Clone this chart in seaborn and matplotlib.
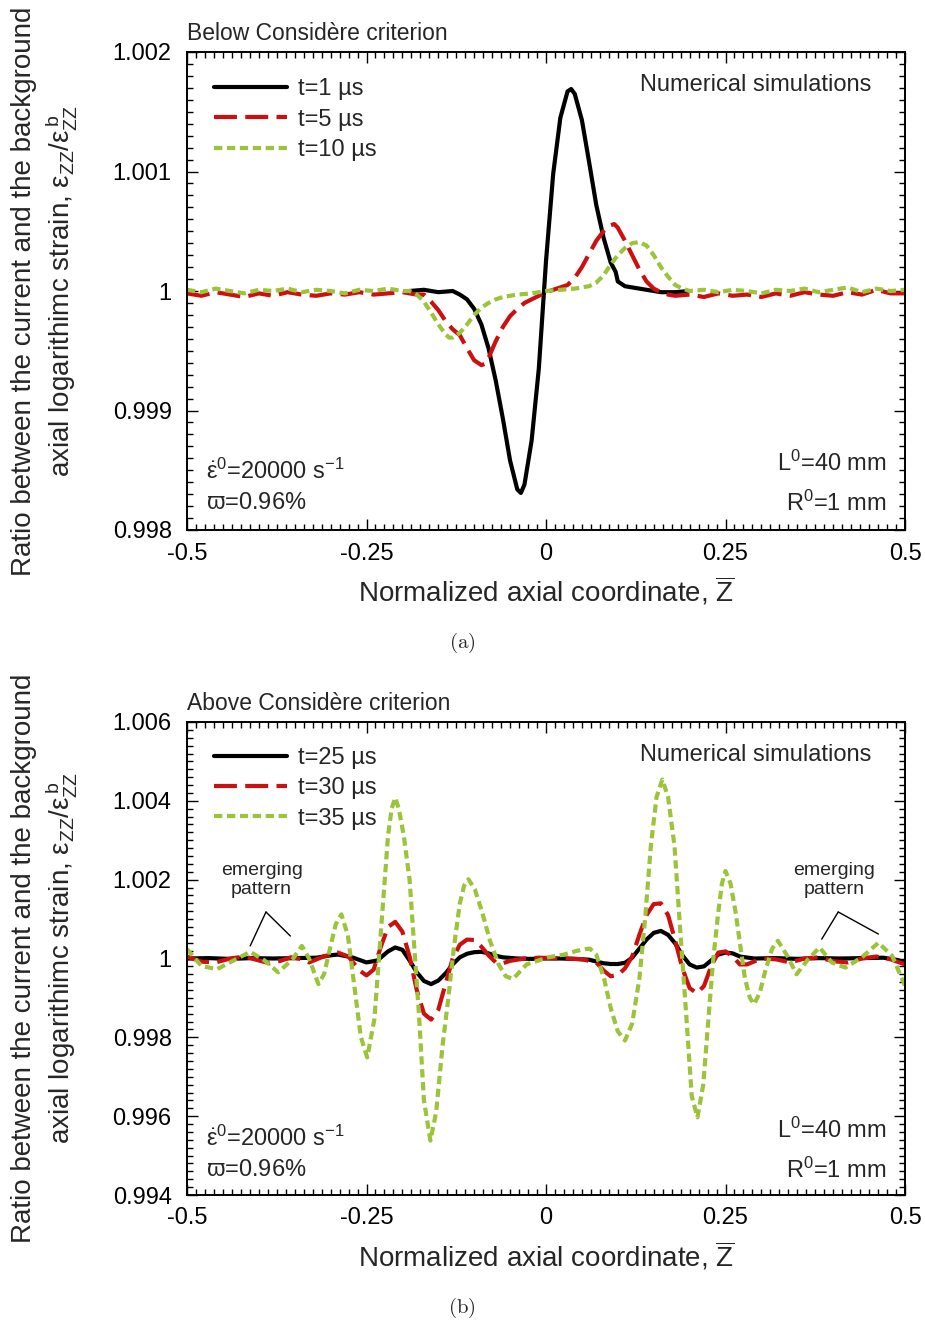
import numpy as np
import pandas as pd
import matplotlib
matplotlib.use("Agg")
import matplotlib.pyplot as plt
from matplotlib.ticker import MultipleLocator
import seaborn as sns

# ---------------- data ----------------
# Panel (a): below Considère criterion
za_t1 = [-0.19, -0.17, -0.15, -0.13, -0.12, -0.11, -0.10, -0.09, -0.08, -0.07, -0.06,
         -0.05, -0.04, -0.035, -0.03, -0.02, -0.01, 0.0, 0.01, 0.02, 0.03, 0.035, 0.04,
         0.05, 0.06, 0.07, 0.08, 0.09, 0.097, 0.10, 0.11, 0.12, 0.14, 0.16, 0.18, 0.20]
ra_t1 = [1.00000, 1.00001, 0.99999, 1.00000, 0.99997, 0.99993, 0.99985, 0.99972, 0.99952,
         0.99925, 0.99893, 0.99858, 0.99834, 0.99831, 0.99838, 0.99875, 0.99935, 1.00025,
         1.00098, 1.00145, 1.00167, 1.00169, 1.00165, 1.00143, 1.00108, 1.00072, 1.00045,
         1.00024, 1.00016, 1.00008, 1.00004, 1.00003, 1.00001, 0.99999, 0.99999, 1.00000]

za_t5 = [-0.50, -0.48, -0.46, -0.44, -0.42, -0.40, -0.38, -0.36, -0.34, -0.32, -0.30,
         -0.28, -0.26, -0.24, -0.22, -0.20, -0.18, -0.17, -0.16, -0.15, -0.14, -0.13,
         -0.12, -0.11, -0.10, -0.09, -0.085, -0.08, -0.07, -0.06, -0.05, -0.04, -0.03,
         -0.02, -0.01, 0.0, 0.01, 0.02, 0.03, 0.04, 0.05, 0.06, 0.07, 0.08, 0.09, 0.095,
         0.10, 0.11, 0.12, 0.13, 0.14, 0.15, 0.16, 0.17, 0.18, 0.20, 0.22, 0.24, 0.26,
         0.28, 0.30, 0.32, 0.34, 0.36, 0.38, 0.40, 0.42, 0.44, 0.46, 0.48, 0.50]
ra_t5 = [0.99998, 0.99996, 0.99999, 0.99997, 0.99995, 0.99998, 0.99996, 0.99999, 0.99997,
         0.99996, 0.99998, 0.99997, 0.99999, 0.99997, 0.99998, 0.99999, 0.99997, 0.99997,
         0.99991, 0.99984, 0.99975, 0.99968, 0.99963, 0.99952, 0.99942, 0.99938, 0.99939,
         0.99944, 0.99958, 0.99970, 0.99979, 0.99985, 0.99990, 0.99993, 0.99996, 0.99999,
         1.00001, 1.00003, 1.00005, 1.00011, 1.00020, 1.00031, 1.00042, 1.00050, 1.00055,
         1.00056, 1.00053, 1.00042, 1.00030, 1.00018, 1.00008, 1.00002, 0.99999, 0.99997,
         0.99996, 0.99997, 0.99995, 0.99998, 0.99996, 0.99997, 0.99995, 0.99998, 0.99996,
         0.99999, 0.99997, 0.99996, 0.99999, 0.99997, 1.00001, 0.99998, 0.99998]

za_t10 = [-0.50, -0.48, -0.46, -0.44, -0.42, -0.40, -0.38, -0.36, -0.34, -0.32, -0.30,
          -0.28, -0.26, -0.24, -0.22, -0.20, -0.19, -0.18, -0.17, -0.16, -0.15, -0.14,
          -0.135, -0.13, -0.12, -0.11, -0.10, -0.09, -0.08, -0.07, -0.06, -0.05, -0.04,
          -0.02, 0.0, 0.02, 0.04, 0.05, 0.06, 0.07, 0.08, 0.09, 0.10, 0.11, 0.12, 0.13,
          0.14, 0.15, 0.16, 0.17, 0.18, 0.19, 0.20, 0.22, 0.24, 0.26, 0.28, 0.30, 0.32,
          0.34, 0.36, 0.38, 0.40, 0.42, 0.44, 0.46, 0.48, 0.50]
ra_t10 = [1.00001, 0.99999, 1.00002, 1.00000, 0.99998, 1.00001, 1.00000, 1.00002, 0.99999,
          1.00001, 1.00000, 0.99998, 1.00001, 1.00000, 1.00002, 1.00000, 1.00000, 0.99997,
          0.99991, 0.99982, 0.99972, 0.99964, 0.99961, 0.99961, 0.99965, 0.99972, 0.99980,
          0.99986, 0.99990, 0.99993, 0.99995, 0.99996, 0.99997, 0.99998, 1.00000, 1.00001,
          1.00002, 1.00003, 1.00004, 1.00007, 1.00013, 1.00022, 1.00030, 1.00036, 1.00040,
          1.00041, 1.00038, 1.00030, 1.00020, 1.00012, 1.00005, 1.00002, 1.00000, 1.00001,
          0.99999, 1.00001, 1.00000, 0.99998, 1.00001, 1.00000, 1.00002, 0.99999, 1.00001,
          1.00003, 0.99999, 1.00002, 1.00000, 1.00001]

# Panel (b): above Considère criterion
zb_t25 = [-0.50, -0.47, -0.44, -0.41, -0.38, -0.35, -0.32, -0.30, -0.29, -0.27, -0.25,
          -0.235, -0.22, -0.21, -0.20, -0.19, -0.18, -0.17, -0.16, -0.15, -0.14, -0.13,
          -0.12, -0.11, -0.10, -0.09, -0.08, -0.07, -0.06, -0.04, -0.02, 0.0, 0.02, 0.04,
          0.06, 0.08, 0.09, 0.10, 0.11, 0.12, 0.13, 0.14, 0.15, 0.16, 0.17, 0.18, 0.19,
          0.20, 0.21, 0.22, 0.23, 0.24, 0.25, 0.26, 0.27, 0.29, 0.32, 0.35, 0.38, 0.41,
          0.44, 0.47, 0.49, 0.50]
rb_t25 = [1.00000, 1.00001, 0.99999, 1.00001, 1.00000, 1.00001, 1.00002, 1.00008, 1.00010,
          1.00003, 0.99990, 0.99995, 1.00018, 1.00028, 1.00022, 0.99995, 0.99965, 0.99943,
          0.99935, 0.99944, 0.99962, 0.99985, 1.00003, 1.00012, 1.00016, 1.00017, 1.00013,
          1.00007, 1.00003, 1.00000, 0.99999, 1.00000, 1.00000, 0.99999, 0.99997, 0.99988,
          0.99986, 0.99986, 0.99989, 1.00002, 1.00025, 1.00048, 1.00065, 1.00070, 1.00060,
          1.00038, 1.00008, 0.99985, 0.99977, 0.99980, 0.99995, 1.00010, 1.00015, 1.00013,
          1.00005, 1.00000, 1.00001, 0.99999, 1.00001, 1.00000, 1.00001, 1.00002, 0.99996,
          0.99990]

zb_t30 = [-0.50, -0.48, -0.46, -0.44, -0.42, -0.40, -0.385, -0.37, -0.355, -0.34, -0.33,
          -0.31, -0.29, -0.275, -0.26, -0.25, -0.24, -0.23, -0.22, -0.21, -0.20, -0.19,
          -0.18, -0.17, -0.16, -0.15, -0.14, -0.13, -0.12, -0.11, -0.10, -0.09, -0.08,
          -0.07, -0.06, -0.05, -0.03, -0.01, 0.01, 0.03, 0.05, 0.07, 0.08, 0.09, 0.10,
          0.11, 0.12, 0.13, 0.14, 0.15, 0.16, 0.17, 0.18, 0.19, 0.20, 0.21, 0.22, 0.23,
          0.24, 0.25, 0.26, 0.27, 0.28, 0.30, 0.32, 0.34, 0.36, 0.38, 0.40, 0.42, 0.44,
          0.46, 0.48, 0.50]
rb_t30 = [1.00005, 0.99992, 0.99990, 1.00000, 1.00005, 0.99995, 0.99988, 0.99994, 1.00003,
          0.99998, 0.99990, 1.00005, 1.00015, 1.00005, 0.99970, 0.99957, 0.99972, 1.00030,
          1.00080, 1.00093, 1.00068, 1.00005, 0.99920, 0.99860, 0.99845, 0.99870, 0.99935,
          1.00000, 1.00035, 1.00048, 1.00047, 1.00030, 1.00008, 0.99990, 0.99988, 0.99994,
          1.00000, 1.00002, 1.00001, 1.00000, 0.99998, 0.99990, 0.99970, 0.99955, 0.99958,
          0.99975, 1.00005, 1.00060, 1.00110, 1.00138, 1.00140, 1.00110, 1.00045, 0.99975,
          0.99925, 0.99912, 0.99930, 0.99980, 1.00015, 1.00018, 1.00005, 0.99985, 0.99985,
          1.00000, 0.99998, 0.99990, 1.00000, 1.00003, 0.99993, 0.99990, 1.00000, 1.00005,
          0.99998, 0.99985]

zb_t35 = [-0.500, -0.480, -0.458, -0.435, -0.412, -0.392, -0.373, -0.353, -0.340, -0.330,
          -0.317, -0.309, -0.301, -0.293, -0.285, -0.276, -0.267, -0.258, -0.249, -0.239,
          -0.2295, -0.220, -0.215, -0.210, -0.205, -0.198, -0.190, -0.182, -0.177, -0.170,
          -0.161, -0.153, -0.144, -0.136, -0.128, -0.120, -0.114, -0.108, -0.099, -0.089,
          -0.078, -0.066, -0.056, -0.046, -0.027, 0.003, 0.025, 0.042, 0.052, 0.061, 0.070,
          0.081, 0.090, 0.100, 0.110, 0.120, 0.130, 0.138, 0.146, 0.154, 0.162, 0.170,
          0.179, 0.187, 0.195, 0.203, 0.211, 0.219, 0.227, 0.233, 0.240, 0.245, 0.250,
          0.257, 0.264, 0.277, 0.284, 0.290, 0.298, 0.306, 0.315, 0.323, 0.336, 0.349,
          0.365, 0.381, 0.398, 0.417, 0.440, 0.463, 0.482, 0.500]
rb_t35 = [1.00024, 0.99981, 0.99973, 0.99995, 1.00017, 0.99995, 0.99965, 0.99998, 1.00032,
          1.00000, 0.99935, 0.99961, 1.00024, 1.00086, 1.00112, 1.00059, 0.99931, 0.99802,
          0.99749, 0.99846, 1.00079, 1.00312, 1.00380, 1.00408, 1.00380, 1.00310, 1.00200,
          0.99990, 0.99860, 0.99640, 0.99538, 0.99610, 0.99780, 0.99900, 1.00032, 1.00140,
          1.00185, 1.00201, 1.00175, 1.00118, 1.00045, 0.99985, 0.99955, 0.99948, 0.99985,
          1.00003, 1.00010, 1.00019, 1.00023, 1.00025, 1.00010, 0.99948, 0.99875, 0.99815,
          0.99792, 0.99835, 0.99948, 1.00100, 1.00285, 1.00410, 1.00454, 1.00410, 1.00285,
          1.00070, 0.99865, 0.99650, 0.99597, 0.99680, 0.99865, 1.00000, 1.00118, 1.00190,
          1.00222, 1.00190, 1.00118, 0.99950, 0.99900, 0.99884, 0.99915, 0.99973, 1.00025,
          1.00045, 1.00007, 0.99960, 0.99998, 1.00028, 0.99990, 0.99977, 1.00003, 1.00040,
          1.00007, 0.99931]

labels_a = ["t=1 µs", "t=5 µs", "t=10 µs"]
labels_b = ["t=25 µs", "t=30 µs", "t=35 µs"]

xticks = [-0.5, -0.25, 0.0, 0.25, 0.5]
xticklabels = ["-0.5", "-0.25", "0", "0.25", "0.5"]
yticks_a = [0.998, 0.999, 1.0, 1.001, 1.002]
yticklabels_a = ["0.998", "0.999", "1", "1.001", "1.002"]
yticks_b = [0.994, 0.996, 0.998, 1.0, 1.002, 1.004, 1.006]
yticklabels_b = ["0.994", "0.996", "0.998", "1", "1.002", "1.004", "1.006"]

# ---------------- style ----------------
sns.set_theme(style="ticks")
plt.rcParams["font.family"] = ["Liberation Sans", "DejaVu Sans"]
plt.rcParams["mathtext.fontset"] = "custom"
plt.rcParams["mathtext.rm"] = "Liberation Sans"
plt.rcParams["mathtext.it"] = "Liberation Sans"
plt.rcParams["mathtext.bf"] = "Liberation Sans:bold"

BLACK = "#000000"
RED = "#CC1010"
GREEN = "#9CC43A"
styles = [
    dict(color=BLACK, lw=3.0, linestyle="-"),
    dict(color=RED, lw=3.0, linestyle=(0, (5.5, 2.0))),
    dict(color=GREEN, lw=3.0, linestyle=(0, (2.0, 1.1))),
]

fig = plt.figure(figsize=(9.25, 13.27), dpi=100)
ax1 = fig.add_axes([187 / 925, 1 - 530 / 1327, 718 / 925, 478 / 1327])
ax2 = fig.add_axes([187 / 925, 1 - 1195 / 1327, 718 / 925, 473 / 1327])

ylabel = ("Ratio between the current and the background\n"
          r"axial logarithimc strain, $\varepsilon_{ZZ}/\varepsilon_{ZZ}^{\,b}$")
xlabel = r"Normalized axial coordinate, $\overline{\mathrm{Z}}$"


def draw(ax, series, labels, yticks, yticklabels, ylim, yminor, title, txt_y, leg_y):
    for (z, r), lab, st in zip(series, labels, styles):
        df = pd.DataFrame({"z": z, "r": r})
        sns.lineplot(data=df, x="z", y="r", ax=ax, label=lab, estimator=None,
                     sort=False, **st)
    ax.set_xlim(-0.5, 0.5)
    ax.set_ylim(*ylim)
    ax.set_xticks(xticks)
    ax.set_xticklabels(xticklabels)
    ax.set_yticks(yticks)
    ax.set_yticklabels(yticklabels)
    ax.xaxis.set_minor_locator(MultipleLocator(0.0125))
    ax.yaxis.set_minor_locator(MultipleLocator(yminor))
    ax.tick_params(which="both", direction="in", top=True, right=True,
                   width=1.0, colors="black", labelsize=17)
    ax.tick_params(axis="x", which="both", pad=9)
    ax.tick_params(axis="y", which="both", pad=11)
    ax.tick_params(which="major", length=8)
    ax.tick_params(which="minor", length=4.5)
    for s in ax.spines.values():
        s.set_linewidth(1.4)
        s.set_color("black")
    ax.set_xlabel(xlabel, fontsize=20, labelpad=7)
    ax.set_ylabel(ylabel, fontsize=20, labelpad=24, linespacing=1.25)
    ax.text(0.0, 1.014, title, transform=ax.transAxes, fontsize=16.5, ha="left",
            va="bottom")
    ax.legend(loc="upper left", bbox_to_anchor=(0.038, leg_y), frameon=False,
              fontsize=17, handlelength=3.1, handletextpad=0.45,
              labelspacing=0.35, borderaxespad=0.0, borderpad=0.0)
    ax.text(0.953, txt_y[0], "Numerical simulations", transform=ax.transAxes,
            ha="right", va="center", fontsize=17)
    ax.text(0.026, txt_y[1], r"$\dot{\varepsilon}^{0}$=20000 s$^{-1}$",
            transform=ax.transAxes, ha="left", va="center", fontsize=17)
    ax.text(0.026, txt_y[2], r"$\varpi$=0.96%", transform=ax.transAxes,
            ha="left", va="center", fontsize=17)
    ax.text(0.974, txt_y[3], r"L$^{0}$=40 mm", transform=ax.transAxes,
            ha="right", va="center", fontsize=17)
    ax.text(0.974, txt_y[2], r"R$^{0}$=1 mm", transform=ax.transAxes,
            ha="right", va="center", fontsize=17)


draw(ax1, [(za_t1, ra_t1), (za_t5, ra_t5), (za_t10, ra_t10)], labels_a,
     yticks_a, yticklabels_a, (0.998, 1.002), 0.0001,
     "Below Considère criterion", (0.932, 0.123, 0.056, 0.140), 0.945)
draw(ax2, [(zb_t25, rb_t25), (zb_t30, rb_t30), (zb_t35, rb_t35)], labels_b,
     yticks_b, yticklabels_b, (0.994, 1.006), 0.0002,
     "Above Considère criterion", (0.930, 0.120, 0.053, 0.137), 0.947)

# "emerging pattern" annotations
for xc, ends in [(-0.396, [(-0.412, 1.00032), (-0.356, 1.00057)]),
                 (0.401, [(0.384, 1.00049), (0.463, 1.00062)])]:
    ax2.text(xc, 1.00198, "emerging\npattern", ha="center", va="center",
             fontsize=14, linespacing=1.15)
    for e in ends:
        ax2.annotate("", xy=e, xytext=(xc + 0.006, 1.00118),
                     arrowprops=dict(arrowstyle="-", color="black", lw=1.0,
                                     shrinkA=0, shrinkB=0))

fig.text(462 / 925, 1 - 643 / 1327, r"$\mathrm{(a)}$", math_fontfamily="cm",
         ha="center", va="center", fontsize=15)
fig.text(462 / 925, 1 - 1308 / 1327, r"$\mathrm{(b)}$", math_fontfamily="cm",
         ha="center", va="center", fontsize=15)

fig.savefig("out.png", dpi=100, facecolor="white")
